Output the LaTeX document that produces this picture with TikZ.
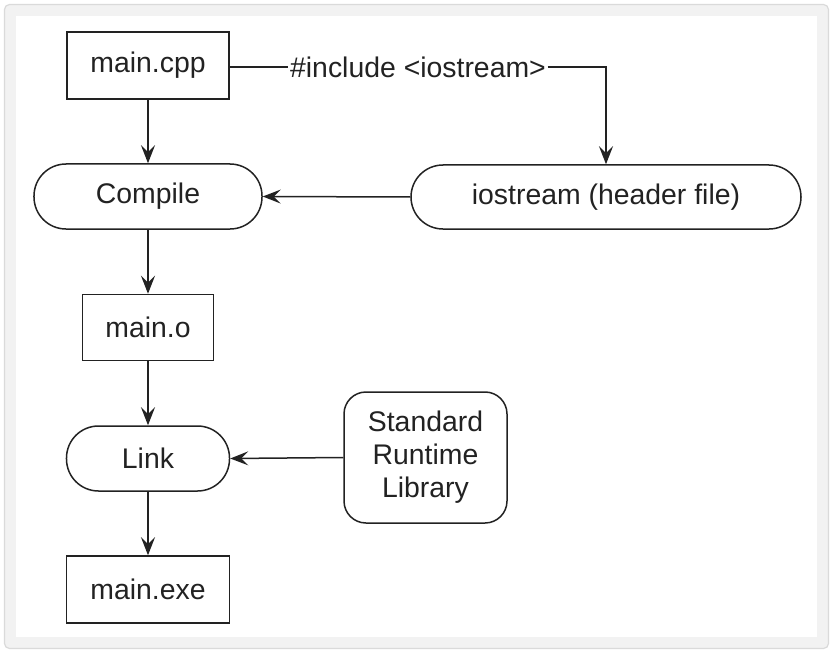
\documentclass[tikz,border=0pt]{standalone}
\usepackage{fontspec}
\setmainfont{Liberation Sans}
\usetikzlibrary{arrows.meta}
\definecolor{framegray}{HTML}{F2F2F2}
\definecolor{frameedge}{HTML}{DADADA}
\definecolor{ink}{HTML}{222222}
\begin{document}
\begin{tikzpicture}[x=1bp,y=-1bp,
  every node/.style={font=\fontsize{28.5}{33}\selectfont, text=ink},
  filebox/.style={draw=ink, line width=1.5bp, rectangle, inner sep=0pt},
  procbox/.style={draw=ink, line width=1.5bp, rectangle, rounded corners=32bp, inner sep=0pt},
  libbox/.style={draw=ink, line width=1.5bp, rectangle, rounded corners=22bp, inner sep=0pt, align=center},
  conn/.style={draw=ink, line width=1.5bp},
  arr/.style={conn, -{Stealth[length=18bp,width=14bp,inset=7bp]}}
]
\useasboundingbox (0,0) rectangle (832,652);
\fill[white] (0,0) rectangle (832,652);
\draw[fill=framegray, draw=frameedge, line width=1.2bp, rounded corners=5bp] (4.5,4.5) rectangle (828.5,648.5);
\fill[white] (16,16) rectangle (817,637);

\node[filebox, minimum width=162bp, minimum height=67bp] (cpp) at (148,65.5) {main.cpp};
\node[procbox, minimum width=228bp, minimum height=65bp] (compile) at (148,196.5) {Compile};
\node[procbox, minimum width=390bp, minimum height=64bp] (io) at (606,197) {iostream (header file)};
\node[filebox, minimum width=131bp, minimum height=66bp] (mo) at (148,327.5) {main.o};
\node[procbox, minimum width=163bp, minimum height=65bp] (link) at (148,458.5) {Link};
\node[libbox, minimum width=163bp, minimum height=131bp] (srl) at (425.5,457.5) {Standard\\Runtime\\Library};
\node[filebox, minimum width=163bp, minimum height=67bp] (exe) at (148,589.5) {main.exe};
\node[inner sep=1.5bp] (inc) at (418,67) {\#include <iostream>};

\draw[conn] (cpp.east |- inc.west) -- (inc.west);
\draw[arr] (inc.east) -| (io.north);
\draw[arr] (cpp.south) -- (compile.north);
\draw[arr] (io.west) -- (compile.east);
\draw[arr] (compile.south) -- (mo.north);
\draw[arr] (mo.south) -- (link.north);
\draw[arr] (srl.west) -- (link.east);
\draw[arr] (link.south) -- (exe.north);
\end{tikzpicture}
\end{document}
